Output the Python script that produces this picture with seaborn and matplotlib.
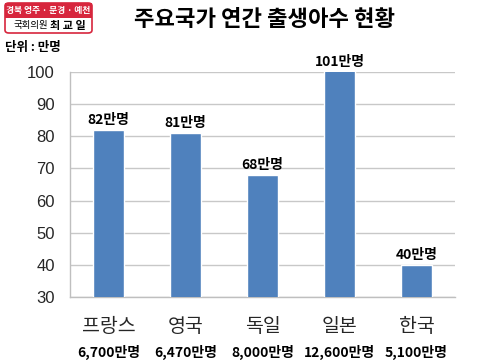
import numpy as np
import pandas as pd
import matplotlib
matplotlib.use('Agg')
import matplotlib.pyplot as plt
import seaborn as sns
from matplotlib.patches import FancyBboxPatch, Rectangle

# data
countries = ['프랑스', '영국', '독일', '일본', '한국']
births = [82, 81, 68, 101, 40]            # 만명, annual births
bar_labels = ['82만명', '81만명', '68만명', '101만명', '40만명']
population = ['6,700만명', '6,470만명', '8,000만명', '12,600만명', '5,100만명']

sns.set_theme(style='white')
plt.rcParams['font.family'] = ['Noto Sans CJK KR', 'DejaVu Sans']

df = pd.DataFrame({'country': countries, 'births': births})

fig = plt.figure(figsize=(4.8, 3.6), dpi=100)
ax = fig.add_axes([70 / 480, 1 - 297 / 360, 385 / 480, 225 / 360])

sns.barplot(data=df, x='country', y='births', color='#4F81BD', saturation=1,
            width=0.39, ax=ax, zorder=3)

ax.set_ylim(30, 100)
ax.set_xlim(-0.5, 4.5)
ax.set_yticks(range(30, 101, 10))
ax.yaxis.grid(True, color='#c8c8c8', lw=1, zorder=0)
ax.set_xlabel('')
ax.set_ylabel('')
for s in ['top', 'right']:
    ax.spines[s].set_visible(False)
for s in ['left', 'bottom']:
    ax.spines[s].set_color('#bfbfbf')
    ax.spines[s].set_linewidth(1)

ax.tick_params(axis='y', length=7, color='#bfbfbf', width=1, labelsize=12, pad=4)
for t in ax.get_yticklabels():
    t.set_family(['Liberation Sans', 'DejaVu Sans'])
ax.tick_params(axis='x', which='major', length=0, labelsize=14, pad=14)
ax.set_xticks(np.arange(-0.5, 5, 1), minor=True)
ax.tick_params(axis='x', which='minor', length=5, color='#bfbfbf', width=1)

# value labels above bars (bar over 100 is cut at the axis top)
for i, (v, lab) in enumerate(zip(births, bar_labels)):
    ax.text(i, min(v, 100) + 1, lab, ha='center', va='bottom', fontsize=10,
            fontweight='bold', color='black', clip_on=False)

# population line under country names
for i, p in enumerate(population):
    ax.text(i, -0.245, p, transform=ax.get_xaxis_transform(), ha='center',
            va='center', fontsize=10, fontweight='bold', color='black')

# title
fig.text(265 / 480, 1 - 20 / 360, '주요국가 연간 출생아수 현황', ha='center',
         va='center', fontsize=16, fontweight='bold', color='black')

# unit
fig.text(5 / 480, 1 - 47 / 360, '단위 : 만명', ha='left', va='center',
         fontsize=9, fontweight='bold', color='black')

# badge in top-left
bx, by, bw, bh = 5 / 480, 1 - 33 / 360, 87 / 480, 30 / 360
outer = FancyBboxPatch((bx, by), bw, bh, boxstyle='round,pad=0,rounding_size=0.008',
                       transform=fig.transFigure, facecolor='white',
                       edgecolor='#d7263d', lw=1.2, zorder=5)
fig.patches.append(outer)
top = Rectangle((bx, by + bh / 2), bw, bh / 2, transform=fig.transFigure,
                facecolor='#d7263d', edgecolor='none', zorder=6)
fig.patches.append(top)
fig.text(bx + bw / 2, by + bh * 0.75, '경북 영주 · 문경 · 예천', ha='center',
         va='center', fontsize=6.3, color='white', fontweight='bold', zorder=7)
fig.text(bx + bw * 0.3, by + bh * 0.25, '국회의원', ha='center', va='center',
         fontsize=6.8, color='black', zorder=7)
fig.text(bx + bw * 0.72, by + bh * 0.25, '최 교 일', ha='center', va='center',
         fontsize=8, color='black', fontweight='bold', zorder=7)

fig.savefig('out.png', dpi=100)
